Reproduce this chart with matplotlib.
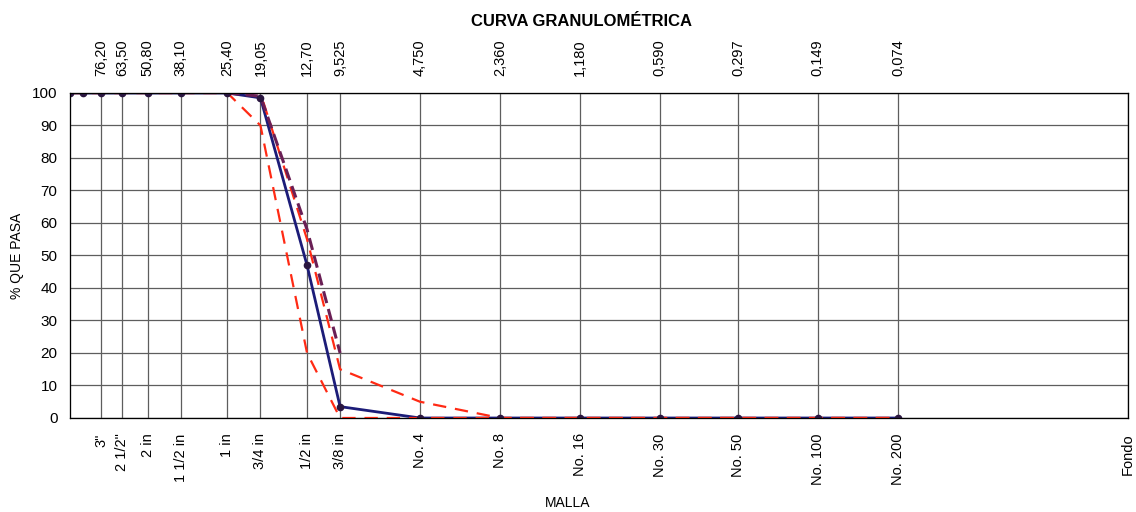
import matplotlib
matplotlib.use("Agg")
import matplotlib.pyplot as plt
from matplotlib.ticker import NullLocator

plt.rcParams['font.family'] = ['Liberation Sans', 'DejaVu Sans']

# abertura de tamices (mm)
tamices = [100, 88.9, 76.2, 63.5, 50.8, 38.1, 25.4, 19.05, 12.7, 9.525,
           4.75, 2.36, 1.18, 0.59, 0.297, 0.149, 0.074]
muestra = [100, 100, 100, 100, 100, 100, 100, 98.5, 47, 3.5,
           0, 0, 0, 0, 0, 0, 0]
lim_sup = [100, 100, 100, 100, 100, 100, 100, 100, 55, 15,
           5, 0, 0, 0, 0, 0, 0]
lim_inf = [100, 100, 100, 100, 100, 100, 100, 90, 20, 0,
           0, 0, 0, 0, 0, 0, 0]
tamices_2 = [25.4, 19.05, 12.7, 9.525]
muestra_2 = [100, 99, 58, 20]

# ejes
mallas_mm = [76.2, 63.5, 50.8, 38.1, 25.4, 19.05, 12.7, 9.525,
             4.75, 2.36, 1.18, 0.59, 0.297, 0.149, 0.074, 0.01]
mallas = ['3"', '2 1/2"', '2 in', '1 1/2 in', '1 in', '3/4 in', '1/2 in', '3/8 in',
          'No. 4', 'No. 8', 'No. 16', 'No. 30', 'No. 50', 'No. 100', 'No. 200', 'Fondo']
aberturas = ['76,20', '63,50', '50,80', '38,10', '25,40', '19,05', '12,70', '9,525',
             '4,750', '2,360', '1,180', '0,590', '0,297', '0,149', '0,074']

fig = plt.figure(figsize=(11.36, 5.12), dpi=100)
ax = fig.add_axes([0.0616, 0.1836, 0.9314, 0.6348])

ax.plot(tamices, muestra, color='#1c1c78', lw=2.0, zorder=3)
ax.plot(tamices, lim_sup, color='#ff2a14', lw=1.6, dashes=(6, 4), zorder=4)
ax.plot(tamices, lim_inf, color='#ff2a14', lw=1.6, dashes=(6, 4), zorder=4)
ax.plot(tamices_2, muestra_2, color='#6a1f55', lw=2.2, dashes=(4, 2), zorder=4.5)
ax.plot(tamices, muestra, ls='none', marker='o', ms=4.5, color='#2a1640', zorder=5)

ax.set_xscale('log')
ax.set_xlim(100, 0.01)
ax.set_ylim(0, 100)
ax.set_xticks(mallas_mm)
ax.set_xticklabels(mallas, rotation=90, fontsize=10.5)
ax.xaxis.set_minor_locator(NullLocator())
ax.set_yticks(range(0, 101, 10))
ax.tick_params(axis='x', length=0, pad=11)
ax.tick_params(axis='y', length=0, pad=9, labelsize=11)
ax.grid(True, color='#5e5e5e', lw=0.9)
ax.set_axisbelow(True)
for s in ax.spines.values():
    s.set_color('#333333')
    s.set_linewidth(0.9)

ax2 = ax.twiny()
ax2.set_xscale('log')
ax2.set_xlim(ax.get_xlim())
ax2.set_xticks(mallas_mm[:-1])
ax2.set_xticklabels(aberturas, rotation=90, fontsize=10.5)
ax2.xaxis.set_minor_locator(NullLocator())
ax2.tick_params(axis='x', length=0, pad=12)

ax.set_ylabel('% QUE PASA', fontsize=10, labelpad=6)
fig.text(0.50, 0.004, 'MALLA', fontsize=10, ha='center', va='bottom')
fig.text(0.512, 0.958, 'CURVA GRANULOMÉTRICA', fontsize=12, fontweight='bold',
         ha='center', va='center')

fig.savefig('out.png', dpi=100)
